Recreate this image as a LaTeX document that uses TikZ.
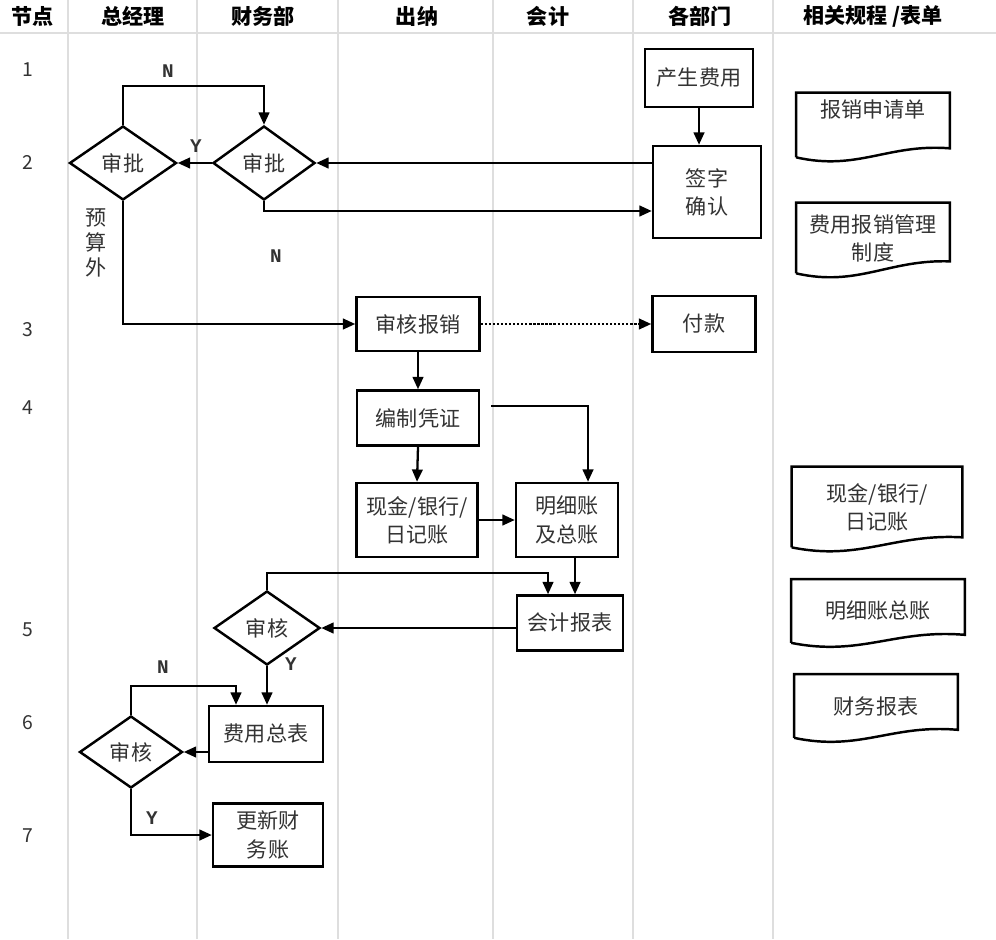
\documentclass[tikz,border=0pt]{standalone}
\usepackage{fontspec}
\setmainfont{Noto Sans CJK SC}
\newfontfamily\ynfont{Liberation Mono}
\usetikzlibrary{shapes.geometric,calc,arrows.meta}

\tikzset{
  lane/.style={draw=black!13, line width=0.6pt},
  box/.style={draw, line width=1.4pt, rectangle, align=center, inner sep=1pt, text=black!80, font=\fontsize{12}{16}\selectfont},
  decide/.style={draw, line width=1.4pt, diamond, inner sep=1pt, text=black!80, font=\fontsize{12}{16}\selectfont},
  doc/.style={align=center, inner sep=1pt, text=black!80, font=\fontsize{12}{16}\selectfont},
  flow/.style={line width=1.3pt, -{Triangle[length=7pt,width=6pt]}},
  yn/.style={font=\ynfont\bfseries\fontsize{11}{13}\selectfont, text=black!80},
}

\begin{document}
\begin{tikzpicture}[x=0.02cm, y=-0.02cm]
\useasboundingbox (0,0) rectangle (996,939);
\fill[white] (0,0) rectangle (996,939);

\foreach \x in {68,197,338,493,633,773}
  \draw[lane] (\x,0) -- (\x,939);
\draw[lane] (0,33) -- (996,33);

\foreach \x/\t [count=\i] in {33/节点,133/总经理,263/财务部,417/出纳,548/会计,700/各部门,873/{相关规程 /表单}}
  \node[font=\bfseries\fontsize{12}{14}\selectfont] (head\i) at (\x,16) {\t};

\foreach \n/\y in {1/70,2/162,3/330,4/408,5/630,6/723,7/836}
  \node[font=\fontsize{11}{13}\selectfont, text=black!80] (row\n) at (28,\y) {\n};

\node[box, minimum width=2.16cm, minimum height=1.16cm] (cost) at (699,78) {产生费用};
\node[box, minimum width=2.16cm, minimum height=1.84cm] (sign) at (707,192) {签字\\确认};
\node[box, minimum width=2.06cm, minimum height=1.12cm] (pay) at (704,324) {付款};
\node[decide, minimum width=2.14cm, minimum height=1.48cm] (ap1) at (123,163) {审批};
\node[decide, minimum width=2.04cm, minimum height=1.48cm] (ap2) at (264,163) {审批};
\node[box, minimum width=2.46cm, minimum height=1.08cm] (audit) at (418,324) {审核报销};
\node[box, minimum width=2.44cm, minimum height=1.10cm] (voucher) at (418,418) {编制凭证};
\node[box, minimum width=2.42cm, minimum height=1.48cm] (cash) at (417,520) {现金/银行/\\日记账};
\node[box, minimum width=2.04cm, minimum height=1.48cm] (ledger) at (567,520) {明细账\\及总账};
\node[box, minimum width=2.12cm, minimum height=1.10cm] (report) at (570,623) {会计报表};
\node[decide, minimum width=2.12cm, minimum height=1.48cm] (ck1) at (267,628) {审核};
\node[box, minimum width=2.28cm, minimum height=1.12cm] (total) at (266,734) {费用总表};
\node[decide, minimum width=2.06cm, minimum height=1.44cm] (ck2) at (131,752) {审核};
\node[box, minimum width=2.20cm, minimum height=1.26cm] (update) at (268,835) {更新财\\务账};
\node[doc, align=center, font=\fontsize{12}{14}\selectfont] (over) at (96,243) {预\\算\\外};

\node[doc, minimum width=3.06cm, minimum height=1.28cm, text depth=0.65cm] (f1) at (873,125) {报销申请单};
\node[doc, minimum width=3.06cm, minimum height=1.40cm] (f2) at (873,238) {费用报销管理\\制度};
\node[doc, minimum width=3.40cm, minimum height=1.60cm] (f3) at (877,507) {现金/银行/\\日记账};
\node[doc, minimum width=3.46cm, minimum height=1.26cm] (f4) at (878,611) {明细账总账};
\node[doc, minimum width=3.26cm, minimum height=1.26cm] (f5) at (876,706) {财务报表};
\foreach \d/\r in {f1/9,f2/12,f3/10,f4/8,f5/8}
  \draw[line width=1.4pt] (\d.south west) -- (\d.north west) -- (\d.north east) -- ($(\d.south east)+(0,-\r)$)
    .. controls ($(\d.south west)!0.6!(\d.south east)+(0,-14)$) and ($(\d.south west)!0.4!(\d.south east)+(0,14)$) .. (\d.south west);

\draw[flow] (cost.south) -- (cost.south |- sign.north);
\draw[flow] (sign.west |- ap2.east) -- (ap2.east);
\draw[flow] (ap2.south) |- ($(sign.west)+(0,19)$);
\draw[flow] (ap2.west) -- (ap1.east);
\draw[flow] (ap1.north) -- ++(0,-39) -| (ap2.north);
\draw[flow] (ap1.south) |- (audit.west);
\draw[flow, densely dotted] (audit.east) -- (pay.west);
\draw[flow] (audit.south) -- (voucher.north);
\draw[flow] (voucher.south) -- (cash.north);
\draw[flow] ($(voucher.east)+(11,-12)$) -| ($(ledger.north)+(21,0)$);
\draw[flow] (cash.east) -- (ledger.west);
\draw[flow] ($(ledger.south)+(8,0)$) -- ($(report.north)+(5,0)$);
\draw[flow] (ck1.north) -- ++(0,-17) -| ($(report.north)+(-22,0)$);
\draw[flow] (report.west |- ck1.east) -- (ck1.east);
\draw[flow] (ck1.south) -- (ck1.south |- total.north);
\draw[flow] (total.west |- ck2.east) -- (ck2.east);
\draw[flow] (ck2.north) -- ++(0,-29) -| ($(total.north)+(-30,0)$);
\draw[flow] (ck2.south) |- (update.west);

\node[yn] (n1) at (168,71) {N};
\node[yn] (y1) at (196,146) {Y};
\node[yn] (n2) at (276,256) {N};
\node[yn] (y2) at (291,664) {Y};
\node[yn] (n3) at (163,667) {N};
\node[yn] (y3) at (152,818) {Y};
\end{tikzpicture}
\end{document}
